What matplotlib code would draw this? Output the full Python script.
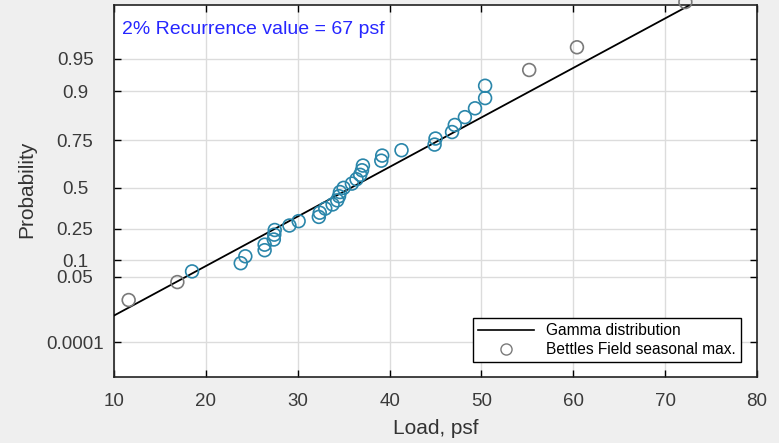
import math
import numpy as np
import matplotlib
matplotlib.use("Agg")
import matplotlib.pyplot as plt
from matplotlib.lines import Line2D

# seasonal maximum loads (psf), sorted
loads = [11.6, 16.9, 18.5, 23.8, 24.3, 26.4, 26.4, 27.45, 27.5, 27.4,
         29.1, 30.1, 32.3, 32.4, 33.0, 33.8, 34.3, 34.5, 34.6, 35.0,
         35.9, 36.4, 36.8, 37.0, 37.1, 39.1, 39.2, 41.3, 44.9, 45.0,
         46.8, 47.1, 48.2, 49.3, 50.4, 50.4, 55.2, 60.4, 72.2]

# fitted gamma distribution (shape, scale, location in psf)
gamma_shape = 9.0
gamma_scale = 4.52
gamma_loc = -3.4

prob_ticks = [0.0001, 0.05, 0.1, 0.25, 0.5, 0.75, 0.9, 0.95]
prob_labels = ["0.0001", "0.05", "0.1", "0.25", "0.5", "0.75", "0.9", "0.95"]
load_ticks = [10, 20, 30, 40, 50, 60, 70, 80]

note = "2% Recurrence value = 67 psf"


def gamma_cdf(x, k):
    # regularized lower incomplete gamma, series form
    x = np.asarray(x, dtype=float)
    term = np.ones_like(x)
    total = np.ones_like(x)
    for n in range(1, 400):
        term = term * x / (k + n)
        total += term
    logpre = -x + k * np.log(np.maximum(x, 1e-300)) - math.lgamma(k + 1)
    return np.exp(logpre) * total


def gamma_ppf(p, k, theta, loc):
    p = np.asarray(p, dtype=float)
    lo = np.zeros_like(p)
    hi = np.full_like(p, 40.0)
    for _ in range(100):
        mid = 0.5 * (lo + hi)
        below = gamma_cdf(mid, k) < p
        lo = np.where(below, mid, lo)
        hi = np.where(below, hi, mid)
    return loc + 0.5 * (lo + hi) * theta


plt.rcParams["font.family"] = ["Liberation Sans", "DejaVu Sans"]

n = len(loads)
x = np.sort(np.array(loads))
pos = (np.arange(1, n + 1) - 0.5) / n
y = gamma_ppf(pos, gamma_shape, gamma_scale, gamma_loc)

# end points look grey in the source, the rest teal-blue
colors = ["#7a7a7a" if (i < 2 or i >= n - 3) else "#2a86aa" for i in range(n)]

fig = plt.figure(figsize=(7.79, 4.43), dpi=100, facecolor="#efefef")
ax = fig.add_axes([0.1463, 0.149, 0.8255, 0.8397])

ax.plot([0, 100], [0, 100], color="black", linewidth=1.3, zorder=3)
ax.scatter(x, y, s=85, facecolors="none", edgecolors=colors,
           linewidths=1.2, zorder=4, clip_on=False)

ax.set_xlim(10, 80)
ax.set_ylim(-2.4, 72.7)
ax.set_xticks(load_ticks)
ax.set_yticks(gamma_ppf(prob_ticks, gamma_shape, gamma_scale, gamma_loc))
ax.set_yticklabels(prob_labels)
ax.tick_params(direction="in", top=True, right=True, labeltop=False,
               labelright=False, labelsize=13.5, labelcolor="#3a3a3a",
               length=5, width=1)
ax.tick_params(axis="x", pad=11.5)
ax.tick_params(axis="y", pad=28)
for lbl in ax.get_yticklabels():
    lbl.set_horizontalalignment("center")
ax.grid(True, color="#dcdcdc", linewidth=1)
ax.set_axisbelow(True)
for s in ax.spines.values():
    s.set_linewidth(1.2)
    s.set_color("#222222")

ax.set_xlabel("Load, psf", fontsize=15, color="#333333")
ax.set_ylabel("Probability", fontsize=15, color="#333333")
ax.xaxis.set_label_coords(0.5, -0.114)
ax.yaxis.set_label_coords(-0.121, 0.505)

ax.text(0.0124, 0.933, note, transform=ax.transAxes, color="#2626ff",
        fontsize=14, va="center", ha="left")

handles = [
    Line2D([], [], color="black", linewidth=1.2),
    Line2D([], [], linestyle="none", marker="o", markersize=8,
           markerfacecolor="none", markeredgecolor="#7a7a7a"),
]
leg = ax.legend(handles, ["Gamma distribution", "Bettles Field seasonal max."],
                loc="lower right", bbox_to_anchor=(0.9747, 0.0411),
                borderaxespad=0, fontsize=11.2, handlelength=3.6,
                fancybox=False, framealpha=1, edgecolor="black",
                borderpad=0.3, labelspacing=0.25)
leg.get_frame().set_linewidth(1.0)

fig.savefig("out.png", dpi=100, facecolor=fig.get_facecolor())
